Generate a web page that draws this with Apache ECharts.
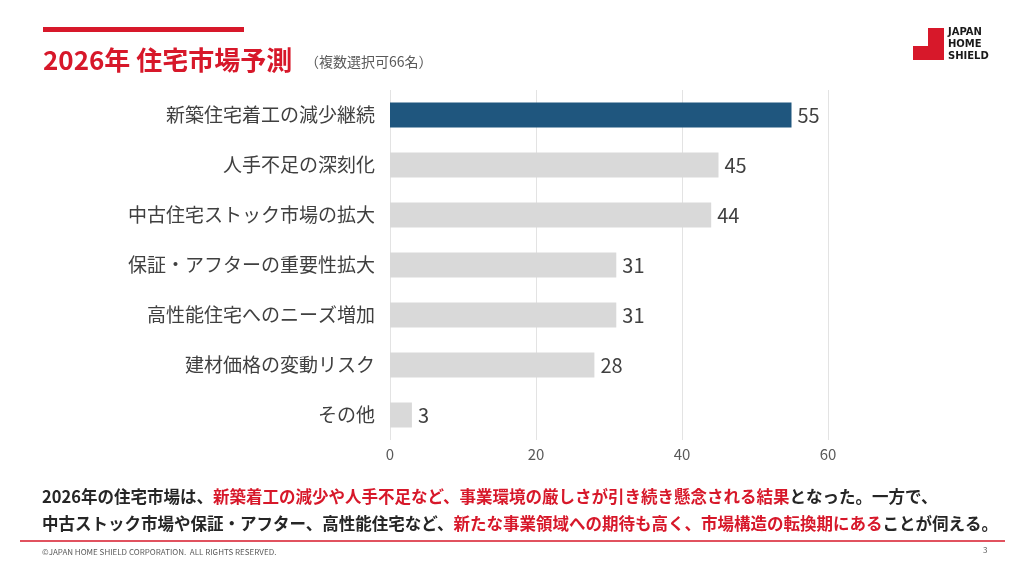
<!DOCTYPE html>
<html>
<head>
<meta charset="utf-8">
<script src="https://cdn.jsdelivr.net/npm/echarts@6/dist/echarts.min.js"></script>
<style>
  html, body { margin: 0; padding: 0; background: #fff; }
  #chart { width: 1024px; height: 575px; }
</style>
</head>
<body>
<div id="chart"></div>
<script>
// data, top to bottom as shown
const categories = [
    '新築住宅着工の減少継続',
    '人手不足の深刻化',
    '中古住宅ストック市場の拡大',
    '保証・アフターの重要性拡大',
    '高性能住宅へのニーズ増加',
    '建材価格の変動リスク',
    'その他'
];
const counts = [55, 45, 44, 31, 31, 28, 3];
const xTicks = [0, 20, 40, 60];

const JP = '"Noto Sans CJK JP", "Noto Sans", sans-serif';
const RED = '#d7182a';

let myChart = echarts.init(document.getElementById('chart'));

// category axis is bottom-up, so reverse
let cats = categories.slice().reverse();
let vals = counts.slice().reverse().map(function (v, i) {
    return {
        value: v,
        itemStyle: { color: i === counts.length - 1 ? '#1f567e' : '#d9d9d9' }
    };
});

myChart.setOption({
    animation: false,
    grid: {
        left: 390,
        right: 196,
        top: 90,
        bottom: 135
    },
    xAxis: {
        type: 'value',
        min: xTicks[0],
        max: xTicks[xTicks.length - 1],
        interval: 20,
        axisLine: { show: false },
        axisTick: { show: false },
        axisLabel: {
            color: '#595959',
            fontSize: 15,
            fontFamily: JP,
            margin: 7
        },
        splitLine: { lineStyle: { color: '#e3e3e3', width: 1 } }
    },
    yAxis: {
        type: 'category',
        data: cats,
        axisLine: { show: false },
        axisTick: { show: false },
        axisLabel: {
            color: '#404040',
            fontSize: 19,
            fontFamily: JP,
            margin: 15
        }
    },
    series: [{
        type: 'bar',
        data: vals,
        barWidth: 25,
        label: {
            show: true,
            position: 'right',
            distance: 6,
            color: '#404040',
            fontSize: 20,
            fontFamily: JP
        }
    }],
    graphic: [
        // red bar above title
        {
            type: 'rect',
            shape: { x: 43, y: 27, width: 201, height: 5 },
            style: { fill: RED }
        },
        {
            type: 'text',
            left: 43, top: 47,
            style: {
                text: '2026年 住宅市場予測',
                fill: RED,
                font: 'bold 26px ' + JP
            }
        },
        {
            type: 'text',
            left: 305, top: 55,
            style: {
                text: '（複数選択可66名）',
                fill: '#595959',
                font: '14px ' + JP
            }
        },
        // logo
        {
            type: 'polygon',
            shape: {
                points: [[928, 28], [944, 28], [944, 60], [913, 60], [913, 46], [928, 46]]
            },
            style: { fill: RED }
        },
        {
            type: 'text',
            left: 948, top: 26,
            style: {
                text: 'JAPAN\nHOME\nSHIELD',
                fill: '#1a1a1a',
                font: 'bold 10px "DejaVu Sans", sans-serif',
                lineHeight: 12
            }
        },
        // summary text
        {
            type: 'text',
            left: 42, top: 483,
            style: {
                text: '{k|2026年の住宅市場は、}{r|新築着工の減少や人手不足など、事業環境の厳しさが引き続き懸念される結果}{k|となった。一方で、}\n' +
                      '{k|中古ストック市場や保証・アフター、高性能住宅など、}{r|新たな事業領域への期待も高く、市場構造の転換期にある}{k|ことが伺える。}',
                font: 'bold 16.5px ' + JP,
                lineHeight: 27,
                rich: {
                    k: { fill: '#262626', font: 'bold 16.5px ' + JP, lineHeight: 27 },
                    r: { fill: RED, font: 'bold 16.5px ' + JP, lineHeight: 27 }
                }
            }
        },
        {
            type: 'line',
            shape: { x1: 20, y1: 541, x2: 1005, y2: 541 },
            style: { stroke: RED, lineWidth: 1.5 }
        },
        {
            type: 'text',
            left: 42, top: 548,
            style: {
                text: '©JAPAN HOME SHIELD CORPORATION.  ALL RIGHTS RESERVED.',
                fill: '#595959',
                font: '8px ' + JP
            }
        },
        {
            type: 'text',
            left: 983, top: 546,
            style: { text: '3', fill: '#595959', font: '8px ' + JP }
        }
    ]
});

window.addEventListener('resize', function () {
    myChart.resize();
});
</script>
</body>
</html>
